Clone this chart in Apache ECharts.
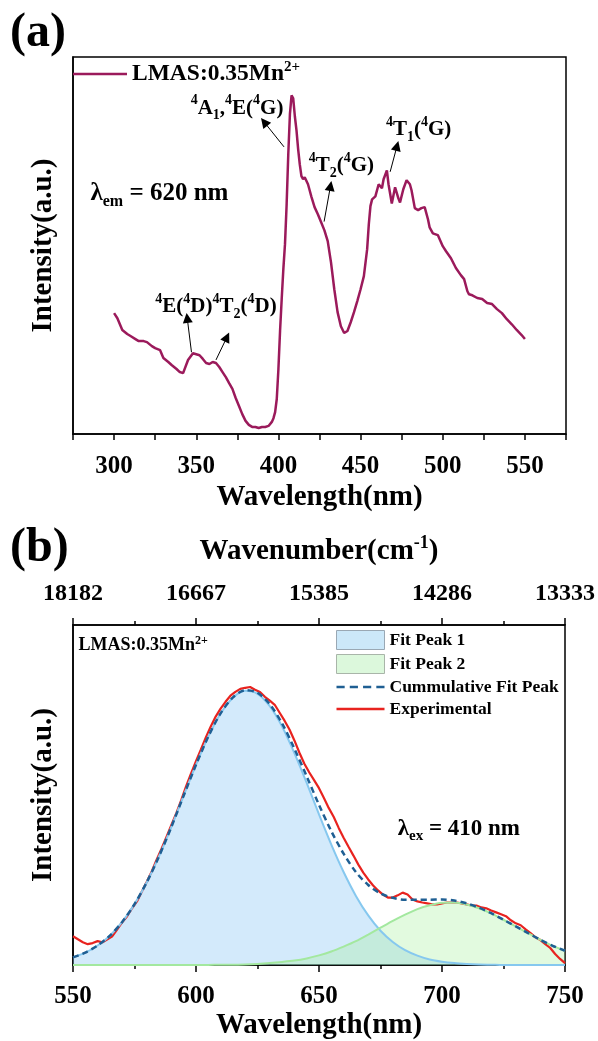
<!DOCTYPE html>
<html>
<head>
<meta charset="utf-8">
<title>LMAS:0.35Mn2+ excitation / emission</title>
<script src="https://cdn.jsdelivr.net/npm/echarts@6/dist/echarts.min.js"></script>
<style>
    html, body { margin: 0; padding: 0; background: #fff; }
    #chart { width: 598px; height: 1041px; }
</style>
</head>
<body>
<div id="chart"></div>
<script>
// (a) excitation spectrum, monitored at 620 nm
var excWavelength = [300, 302, 305, 308, 310, 313, 315, 318, 320, 323, 325, 328, 330, 333, 335, 338, 340, 342, 345, 348,
    350, 352, 354, 356, 358, 360, 362, 364, 366, 368, 370, 372, 374, 376, 378, 380, 382, 384, 386, 388,
    390, 392, 394, 396, 397, 398, 399, 400, 401, 402, 403, 404, 405, 406, 407, 408, 409, 410, 411, 412,
    413, 414, 415, 416, 417, 418, 419, 420, 422, 424, 426, 428, 430, 432, 434, 436, 438, 440, 442, 444,
    446, 448, 450, 452, 454, 455, 456, 457, 459, 461, 463, 464, 466, 467, 469, 471, 473, 474, 476, 478,
    480, 481, 483, 485, 487, 489, 491, 492, 494, 497, 500, 502, 505, 508, 511, 513, 515, 516, 518, 521,
    524, 527, 530, 533, 536, 539, 542, 545, 548, 550];
var excIntensity = [0.359, 0.344, 0.309, 0.297, 0.291, 0.282, 0.276, 0.276, 0.273, 0.261, 0.255, 0.249, 0.226, 0.214, 0.205, 0.193, 0.184, 0.181, 0.220, 0.240,
    0.237, 0.234, 0.223, 0.211, 0.208, 0.214, 0.211, 0.199, 0.184, 0.169, 0.151, 0.134, 0.107, 0.083, 0.059, 0.039, 0.027, 0.021, 0.021, 0.018,
    0.021, 0.021, 0.024, 0.036, 0.047, 0.065, 0.104, 0.193, 0.306, 0.401, 0.490, 0.564, 0.682, 0.831, 0.950, 1.006, 0.997, 0.944, 0.902, 0.846,
    0.801, 0.766, 0.757, 0.763, 0.760, 0.742, 0.724, 0.706, 0.674, 0.653, 0.629, 0.605, 0.573, 0.510, 0.430, 0.362, 0.320, 0.300, 0.306, 0.332,
    0.362, 0.395, 0.430, 0.469, 0.549, 0.623, 0.677, 0.697, 0.706, 0.742, 0.730, 0.757, 0.783, 0.742, 0.685, 0.733, 0.700, 0.688, 0.727, 0.754,
    0.742, 0.724, 0.671, 0.665, 0.671, 0.674, 0.638, 0.614, 0.596, 0.591, 0.558, 0.543, 0.522, 0.493, 0.472, 0.460, 0.424, 0.415, 0.412, 0.404,
    0.401, 0.389, 0.386, 0.371, 0.359, 0.341, 0.326, 0.309, 0.294, 0.282];

// (b) emission spectrum and its two-peak fit
var fitWavelength = [550, 555, 560, 565, 570, 575, 580, 585, 590, 595, 600, 605, 610, 615, 620, 625, 630, 635, 640, 645,
    650, 655, 660, 665, 670, 675, 680, 685, 690, 695, 700, 705, 710, 715, 720, 725, 730, 735, 740, 745, 750];
var fitPeak1 = [0.028, 0.045, 0.071, 0.107, 0.157, 0.222, 0.302, 0.397, 0.504, 0.618, 0.730, 0.833, 0.917, 0.975, 1.000, 0.989, 0.944, 0.870, 0.773, 0.664,
    0.549, 0.439, 0.339, 0.252, 0.181, 0.125, 0.084, 0.054, 0.034, 0.020, 0.012, 0.007, 0.004, 0.002, 0.001, 0, 0, 0, 0, 0, 0];
var fitPeak2 = [0, 0, 0, 0, 0, 0, 0, 0, 0, 0, 0, 0, 0.001, 0.001, 0.002, 0.004, 0.007, 0.011, 0.016, 0.024,
    0.035, 0.049, 0.067, 0.087, 0.111, 0.136, 0.161, 0.184, 0.204, 0.218, 0.227, 0.228, 0.221, 0.207, 0.188, 0.165, 0.141, 0.116, 0.092, 0.070, 0.052];
var cumulativeFit = [0.028, 0.045, 0.071, 0.107, 0.157, 0.222, 0.302, 0.397, 0.504, 0.618, 0.730, 0.833, 0.918, 0.976, 1.002, 0.993, 0.951, 0.881, 0.789, 0.688,
    0.584, 0.488, 0.406, 0.339, 0.292, 0.261, 0.245, 0.238, 0.238, 0.238, 0.239, 0.235, 0.225, 0.209, 0.189, 0.165, 0.141, 0.116, 0.092, 0.070, 0.052];

var expWavelength = [550, 552, 554, 556, 558, 560, 562, 564, 566, 568, 570, 572, 574, 576, 578, 580, 582, 584, 586, 588,
    590, 592, 594, 596, 598, 600, 602, 604, 606, 608, 610, 612, 614, 616, 618, 620, 622, 624, 626, 628,
    630, 632, 634, 636, 638, 640, 642, 644, 646, 648, 650, 652, 654, 656, 658, 660, 662, 664, 666, 668,
    670, 672, 674, 676, 678, 680, 682, 684, 686, 688, 690, 692, 694, 696, 698, 700, 702, 704, 706, 708,
    710, 712, 714, 716, 718, 720, 722, 724, 726, 728, 730, 732, 734, 736, 738, 740, 742, 744, 746, 748, 750];
var experimental = [0.105, 0.094, 0.083, 0.076, 0.080, 0.087, 0.083, 0.094, 0.105, 0.130, 0.156, 0.178, 0.207, 0.232, 0.268, 0.304, 0.341, 0.384, 0.424, 0.467,
    0.511, 0.554, 0.601, 0.652, 0.699, 0.743, 0.786, 0.830, 0.870, 0.906, 0.935, 0.960, 0.982, 0.996, 1.007, 1.011, 1.014, 1.004, 0.996, 0.978,
    0.964, 0.949, 0.920, 0.891, 0.859, 0.819, 0.775, 0.735, 0.703, 0.674, 0.645, 0.609, 0.572, 0.540, 0.500, 0.464, 0.431, 0.399, 0.366, 0.337,
    0.312, 0.290, 0.272, 0.257, 0.246, 0.246, 0.254, 0.264, 0.257, 0.239, 0.232, 0.228, 0.225, 0.221, 0.221, 0.225, 0.228, 0.228, 0.228, 0.225,
    0.221, 0.217, 0.217, 0.210, 0.207, 0.199, 0.192, 0.185, 0.178, 0.163, 0.152, 0.145, 0.130, 0.116, 0.101, 0.091, 0.076, 0.062, 0.040, 0.022, 0.007];

// top axis: wavenumber of the 550..750 nm ticks
var wavenumberLabels = ['18182', '16667', '15385', '14286', '13333'];

var serif = 'Liberation Serif, Times New Roman, serif';
var black = '#000';

function pairs(xs, ys) {
    return xs.map(function (x, i) { return [x, ys[i]]; });
}

function richStyle(size, lh, align) {
    return { fontSize: size, fontWeight: 'bold', fontFamily: serif, color: black, lineHeight: lh, verticalAlign: align };
}

var annotRich = {
    sup: richStyle(14, 20, 'top'),
    sub: richStyle(14, 15, 'bottom'),
    sub2: richStyle(16, 16, 'bottom'),
    sup2: richStyle(12, 13, 'top'),
    sub3: richStyle(15, 15, 'bottom')
};

function arrow(from, to) {
    return [{ coord: from }, { coord: to }];
}

function axisText(size) {
    return { fontFamily: serif, fontWeight: 'bold', fontSize: size, color: black };
}

var frameLine = { show: true, lineStyle: { color: black, width: 1.5 } };

var chart = echarts.init(document.getElementById('chart'), null, { renderer: 'canvas' });

var option = {
    animation: false,
    backgroundColor: '#fff',
    title: [
        { text: '(a)', left: 10, top: 10, padding: 0, textStyle: axisText(48) },
        { text: '(b)', left: 10, top: 525, padding: 0, textStyle: axisText(48) }
    ],
    legend: [
        {
            left: 73, top: 60, padding: 0,
            itemWidth: 54, itemHeight: 14,
            selectedMode: false,
            data: [{ name: 'LMAS:0.35Mn2+', icon: 'path://M0,0h54v2.6h-54z', itemStyle: { color: '#9b1a5b', borderWidth: 0 } }],
            formatter: function () { return 'LMAS:0.35Mn{sup|2+}'; },
            textStyle: {
                fontFamily: serif, fontWeight: 'bold', fontSize: 23.5, color: black, lineHeight: 28,
                rich: { sup: richStyle(15, 15, 'top') }
            }
        },
        {
            left: 336, top: 630, padding: 0, orient: 'vertical',
            itemWidth: 48, itemHeight: 19, itemGap: 4,
            selectedMode: false,
            data: [
                { name: 'Fit Peak 1', icon: 'rect', itemStyle: { color: '#cce8f9', borderColor: '#9aa8b4', borderWidth: 1 } },
                { name: 'Fit Peak 2', icon: 'rect', itemStyle: { color: '#dcf8dc', borderColor: '#a9b5a9', borderWidth: 1 } },
                { name: 'Cummulative Fit Peak', icon: 'path://M0,0h8v2.5h-8z M13,0h8v2.5h-8z M26,0h8v2.5h-8z M39,0h8v2.5h-8z', itemStyle: { color: '#1f5f93', borderWidth: 0 } },
                { name: 'Experimental', icon: 'path://M0,0h48v2.4h-48z', itemStyle: { color: '#e8231f', borderWidth: 0 } }
            ],
            textStyle: axisText(17.5)
        }
    ],
    grid: [
        { left: 73, top: 57, width: 493, height: 377, show: true, borderColor: black, borderWidth: 1.5 },
        { left: 73, top: 625, width: 493, height: 342, show: true, borderColor: black, borderWidth: 1.5 }
    ],
    xAxis: [
        {
            gridIndex: 0, type: 'value', min: 275, max: 575, interval: 25,
            axisLine: frameLine,
            axisTick: { show: true, length: 6, lineStyle: { color: black, width: 1.5 } },
            axisLabel: Object.assign(axisText(25), {
                margin: 20, interval: 0,
                formatter: function (v) { return v % 50 === 0 ? String(v) : ''; }
            }),
            splitLine: { show: false },
            name: 'Wavelength(nm)', nameLocation: 'middle', nameGap: 49,
            nameTextStyle: axisText(29)
        },
        {
            gridIndex: 1, type: 'value', min: 550, max: 750, interval: 50,
            axisLine: frameLine,
            axisTick: { show: true, length: 7, lineStyle: { color: black, width: 1.5 } },
            minorTick: { show: true, splitNumber: 2, length: 4, lineStyle: { color: black, width: 1.5 } },
            axisLabel: Object.assign(axisText(25), { margin: 19 }),
            splitLine: { show: false },
            name: 'Wavelength(nm)', nameLocation: 'middle', nameGap: 46,
            nameTextStyle: axisText(29)
        },
        {
            gridIndex: 1, type: 'value', position: 'top', min: 550, max: 750, interval: 50,
            axisLine: frameLine,
            axisTick: { show: true, length: 7, lineStyle: { color: black, width: 1.5 } },
            minorTick: { show: true, splitNumber: 2, length: 4, lineStyle: { color: black, width: 1.5 } },
            axisLabel: Object.assign(axisText(24), {
                margin: 19,
                formatter: function (v) { return wavenumberLabels[Math.round((v - 550) / 50)]; }
            }),
            splitLine: { show: false },
            name: 'Wavenumber(cm{sup|-1})', nameLocation: 'middle', nameGap: 55,
            nameTextStyle: Object.assign(axisText(29), { lineHeight: 36, rich: { sup: richStyle(18, 24, 'top') } })
        }
    ],
    yAxis: [
        {
            gridIndex: 0, type: 'value', min: 0, max: 1.12,
            axisLine: frameLine, axisTick: { show: false }, axisLabel: { show: false }, splitLine: { show: false },
            name: 'Intensity(a.u.)', nameLocation: 'middle', nameGap: 15, nameRotate: 90,
            nameTextStyle: axisText(29)
        },
        {
            gridIndex: 1, type: 'value', min: 0, max: 1.24,
            axisLine: frameLine, axisTick: { show: false }, axisLabel: { show: false }, splitLine: { show: false },
            name: 'Intensity(a.u.)', nameLocation: 'middle', nameGap: 15, nameRotate: 90,
            nameTextStyle: axisText(29)
        }
    ],
    series: [
        {
            name: 'LMAS:0.35Mn2+', type: 'line', xAxisIndex: 0, yAxisIndex: 0,
            data: pairs(excWavelength, excIntensity),
            symbol: 'none',
            lineStyle: { color: '#9b1a5b', width: 2.5 },
            itemStyle: { color: '#9b1a5b' },
            markPoint: {
                silent: true, symbol: 'circle', symbolSize: 1,
                itemStyle: { color: 'rgba(0,0,0,0)' },
                label: {
                    show: true, position: 'inside', color: black, fontFamily: serif, fontWeight: 'bold',
                    fontSize: 21, lineHeight: 29, rich: annotRich
                },
                data: [
                    { coord: [374.8, 0.968], label: { formatter: '{sup|4}A{sub|1},{sup|4}E({sup|4}G)' } },
                    { coord: [438.3, 0.796], label: { formatter: '{sup|4}T{sub|2}({sup|4}G)' } },
                    { coord: [485.3, 0.903], label: { formatter: '{sup|4}T{sub|1}({sup|4}G)' } },
                    { coord: [362, 0.379], label: { formatter: '{sup|4}E({sup|4}D){sup|4}T{sub|2}({sup|4}D)' } },
                    { coord: [285.3, 0.713], label: { formatter: 'λ{sub2|em} = 620 nm', position: 'right', distance: 0, fontSize: 25, lineHeight: 32 } }
                ]
            },
            markLine: {
                silent: true, symbol: ['none', 'triangle'], symbolSize: 10,
                label: { show: false },
                lineStyle: { color: black, width: 1, type: 'solid' },
                emphasis: { disabled: true },
                data: [
                    arrow([403.4, 0.853], [391.3, 0.927]),
                    arrow([427.8, 0.631], [431.7, 0.737]),
                    arrow([468.0, 0.779], [472.2, 0.856]),
                    arrow([347.1, 0.243], [344.5, 0.345]),
                    arrow([362.0, 0.220], [368.7, 0.288])
                ]
            }
        },
        {
            name: 'Experimental', type: 'line', xAxisIndex: 1, yAxisIndex: 1,
            data: pairs(expWavelength, experimental),
            symbol: 'none',
            lineStyle: { color: '#e8231f', width: 2.2 },
            itemStyle: { color: '#e8231f' },
            markPoint: {
                silent: true, symbol: 'circle', symbolSize: 1,
                itemStyle: { color: 'rgba(0,0,0,0)' },
                label: {
                    show: true, position: 'right', distance: 0, color: black, fontFamily: serif, fontWeight: 'bold',
                    rich: annotRich
                },
                data: [
                    { coord: [552, 1.164], label: { formatter: 'LMAS:0.35Mn{sup2|2+}', fontSize: 18, lineHeight: 22 } },
                    { coord: [681.8, 0.497], label: { formatter: 'λ{sub3|ex} = 410 nm', fontSize: 23, lineHeight: 30 } }
                ]
            }
        },
        {
            name: 'Fit Peak 1', type: 'line', xAxisIndex: 1, yAxisIndex: 1,
            data: pairs(fitWavelength, fitPeak1),
            symbol: 'none', smooth: 0.3,
            lineStyle: { color: '#86c8ef', width: 2 },
            itemStyle: { color: '#86c8ef' },
            areaStyle: { color: 'rgba(140,200,245,0.55)' }
        },
        {
            name: 'Fit Peak 2', type: 'line', xAxisIndex: 1, yAxisIndex: 1,
            data: pairs(fitWavelength, fitPeak2),
            symbol: 'none', smooth: 0.3,
            lineStyle: { color: '#a3e89f', width: 2 },
            itemStyle: { color: '#a3e89f' },
            areaStyle: { color: 'rgba(165,238,155,0.45)' }
        },
        {
            name: 'Cummulative Fit Peak', type: 'line', xAxisIndex: 1, yAxisIndex: 1,
            data: pairs(fitWavelength, cumulativeFit),
            symbol: 'none', smooth: 0.3,
            lineStyle: { color: '#1f5f93', width: 2.5, type: [6, 4] },
            itemStyle: { color: '#1f5f93' }
        }
    ]
};

chart.setOption(option);
</script>
</body>
</html>
